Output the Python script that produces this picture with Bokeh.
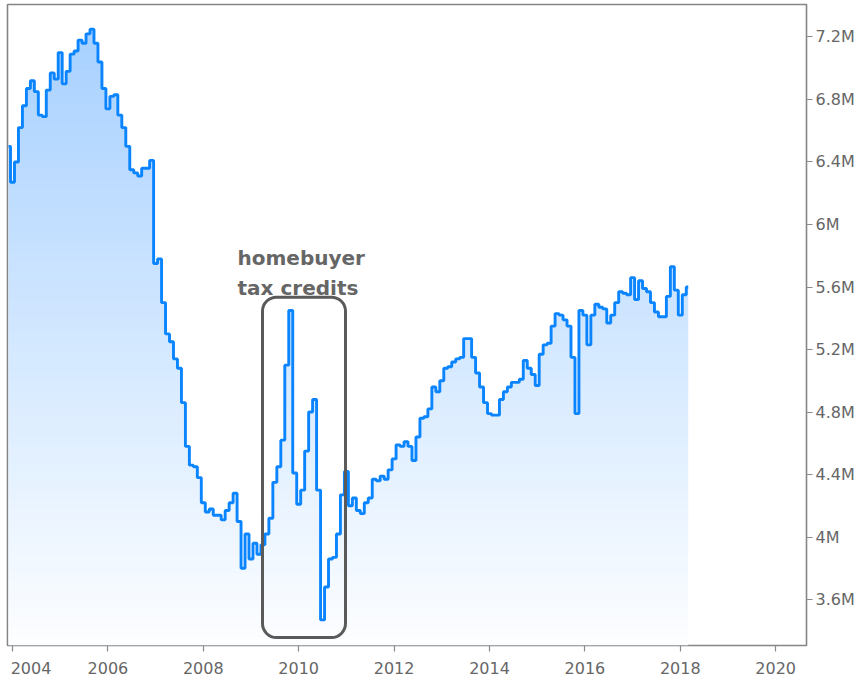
import numpy as np
import pandas as pd
from bokeh.plotting import figure
from bokeh.models import Range1d, FixedTicker, Label, BoxAnnotation
from bokeh.embed import file_html
from bokeh.resources import INLINE

# ---- data (existing home sales, SAAR, millions) ----
start_month = "2003-12"
sales = [
    6.50,
    6.27, 6.40, 6.62, 6.76, 6.87, 6.92, 6.85, 6.70, 6.69, 6.86, 6.97, 6.93,   # 2004
    7.10, 6.90, 6.98, 7.09, 7.11, 7.18, 7.16, 7.22, 7.25, 7.16, 7.04, 6.87,   # 2005
    6.74, 6.82, 6.83, 6.70, 6.62, 6.50, 6.35, 6.33, 6.31, 6.36, 6.36, 6.41,   # 2006
    5.75, 5.78, 5.50, 5.30, 5.25, 5.14, 5.08, 4.86, 4.58, 4.46, 4.45, 4.38,   # 2007
    4.22, 4.16, 4.18, 4.14, 4.14, 4.11, 4.17, 4.22, 4.28, 4.10, 3.80, 4.02,   # 2008
    3.86, 3.96, 3.89, 3.95, 4.02, 4.12, 4.35, 4.45, 4.62, 5.10, 5.45, 4.41,   # 2009
    4.21, 4.30, 4.55, 4.80, 4.88, 4.30, 3.47, 3.68, 3.86, 3.87, 4.02, 4.27,   # 2010
    4.42, 4.20, 4.25, 4.17, 4.15, 4.22, 4.25, 4.37, 4.36, 4.39, 4.37, 4.43,   # 2011
    4.50, 4.59, 4.58, 4.61, 4.58, 4.49, 4.64, 4.76, 4.77, 4.82, 4.96, 4.93,   # 2012
    5.00, 5.08, 5.09, 5.12, 5.14, 5.15, 5.27, 5.27, 5.15, 5.05, 4.96, 4.86,   # 2013
    4.79, 4.78, 4.78, 4.88, 4.93, 4.96, 4.99, 4.99, 5.01, 5.13, 5.08, 5.04,   # 2014
    4.97, 5.17, 5.23, 5.24, 5.35, 5.43, 5.42, 5.39, 5.35, 5.15, 4.79, 5.45,   # 2015
    5.42, 5.23, 5.42, 5.49, 5.47, 5.46, 5.37, 5.42, 5.50, 5.57, 5.56, 5.55,   # 2016
    5.66, 5.52, 5.64, 5.59, 5.57, 5.50, 5.44, 5.41, 5.41, 5.54, 5.73, 5.58,   # 2017
    5.42, 5.55, 5.60,                                                         # 2018
]
x_ticks = [2004, 2006, 2008, 2010, 2012, 2014, 2016, 2018, 2020]
x_tick_labels = ["2004", "2006", "2008", "2010", "2012", "2014", "2016", "2018", "2020"]
y_ticks = [3.6, 4.0, 4.4, 4.8, 5.2, 5.6, 6.0, 6.4, 6.8, 7.2]
y_tick_labels = ["3.6M", "4M", "4.4M", "4.8M", "5.2M", "5.6M", "6M", "6.4M", "6.8M", "7.2M"]
annotation_lines = ["homebuyer", "tax credits"]

months = pd.date_range(start_month, periods=len(sales), freq="MS")
xs = np.asarray(months.year + (months.month - 1) / 12.0, dtype=float)
vals = np.asarray(sales, dtype=float)

X0, X1 = 2003.8952, 2020.6457
Y0, Y1 = 3.3061, 7.4077

p = figure(width=862, height=680, output_backend="svg", toolbar_location=None,
           x_range=Range1d(X0, X1), y_range=Range1d(Y0, Y1),
           y_axis_location="right",
           min_border_left=7, min_border_top=4, min_border_right=56, min_border_bottom=34)
p.background_fill_color = "white"
p.border_fill_color = "white"
p.outline_line_color = "#858585"
p.outline_line_width = 1.6
p.xgrid.visible = False
p.ygrid.visible = False

# gradient fill under the curve (horizontal bands)
top_rgb = np.array([164, 207, 255])
bot_rgb = np.array([253, 254, 255])
N = 70
for i in range(N):
    lo = Y0 + (Y1 - Y0) * i / N
    hi = Y0 + (Y1 - Y0) * (i + 1) / N
    if vals.max() <= lo:
        break
    t = (i + 0.5) / N
    c = bot_rgb + (top_rgb - bot_rgb) * t
    color = "#%02x%02x%02x" % tuple(int(round(v)) for v in c)
    y2 = np.clip(vals, lo, hi)
    eps = 0.004 if i > 0 else 0.0
    y1 = np.where(vals > lo, lo - eps, lo)
    p.varea_step(x=xs, y1=y1, y2=y2, step_mode="center", fill_color=color)

p.step(xs, vals, mode="center", line_color="#0a84ff", line_width=2.9)

# axes
xa = p.xaxis[0]
xa.ticker = FixedTicker(ticks=x_ticks)
xlab = dict(zip(x_ticks, x_tick_labels))
xlab[x_ticks[0]] = "\u00a0" * 2 + x_tick_labels[0]   # first label sits inside the page
xa.major_label_overrides = xlab
ya = p.yaxis[0]
ya.ticker = FixedTicker(ticks=y_ticks)
ya.major_label_overrides = dict(zip(y_ticks, y_tick_labels))
for ax in (xa, ya):
    ax.axis_line_color = None
    ax.major_tick_line_color = "#8a8a8a"
    ax.major_tick_line_width = 1.2
    ax.major_tick_in = 0
    ax.major_tick_out = 6
    ax.minor_tick_line_color = None
    ax.major_label_text_font = "DejaVu Sans"
    ax.major_label_text_font_size = "16px"
    ax.major_label_text_color = "#666666"
xa.major_label_standoff = 7
ya.major_label_standoff = 3

# annotation
p.add_layout(BoxAnnotation(left=2009.241, right=2010.981, bottom=3.357, top=5.535,
                           fill_color=None, fill_alpha=0, line_color="#5a5a5a",
                           line_alpha=1.0, line_width=3, border_radius=14))
for txt, yv in zip(annotation_lines, [5.785, 5.593]):
    p.add_layout(Label(x=2008.717, y=yv, text=txt, text_font="DejaVu Sans",
                       text_font_size="20px", text_font_style="bold", text_color="#666666",
                       text_align="left", text_baseline="alphabetic"))

open("out.html", "w").write(file_html(p, INLINE))
